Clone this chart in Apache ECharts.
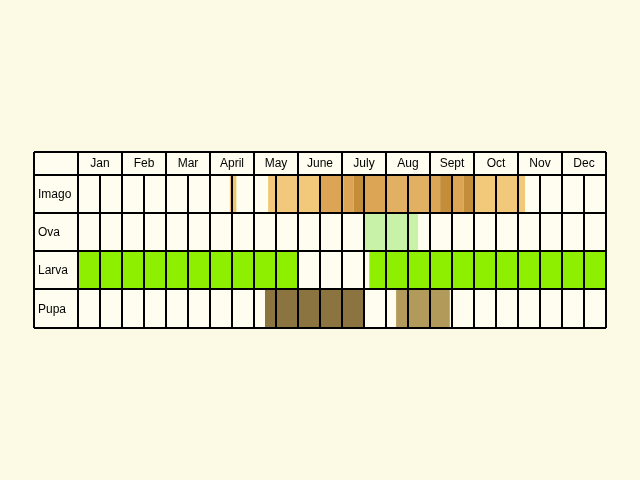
<!DOCTYPE html>
<html><head><meta charset="utf-8">
<script src="https://cdn.jsdelivr.net/npm/echarts@6/dist/echarts.min.js"></script>
<style>html,body{margin:0;padding:0;background:#fcf9e4}#c{width:640px;height:480px}</style>
</head><body><div id="c"></div>
<script>
const months = ['Jan','Feb','Mar','April','May','June','July','Aug','Sept','Oct','Nov','Dec'];
const stages = ['Imago','Ova','Larva','Pupa'];
const rowEdges = [0, 23, 61, 99, 137, 176];   // header + 4 stage rows (vertical units)
const colors = ['#f2c97a','#dba555','#c48d3a','#e2b062','#d4e9a0','#8ef000','#8c7440','#b29a5a','#c8f2a8','#f0c470'];
// segments: [startMonth, endMonth, stageIndex, colorIndex]
const imago = [[3.45,3.6,0,9],[4.32,5.5,0,0],[5.5,6.03,0,1],[6.03,6.26,0,1],[6.26,6.48,0,2],[6.48,6.75,0,1],[6.75,7.02,0,1],[7.02,8.0,0,3],[8.0,8.23,0,1],[8.23,8.49,0,2],[8.49,8.76,0,1],[8.76,9.02,0,2],[9.02,10.16,0,0]];
const ova = [[6.52,7.73,1,8]];
const larva = [[0,5.0,2,5],[6.62,12,2,5]];
const pupa = [[4.25,6.48,3,6],[7.23,8.45,3,7]];
const segments = imago.concat(ova, larva, pupa);
const halfTicks = []; for (let i = 0; i <= 24; i++) halfTicks.push(i / 2);

const chart = echarts.init(document.getElementById('c'));
const X0 = -1;
chart.setOption({
  backgroundColor: '#fcf9e4', animation: false,
  grid: {left: 34, right: 34, top: 152, height: 176},
  xAxis: {type: 'value', min: X0, max: 12, show: false},
  yAxis: {type: 'value', min: 0, max: 176, inverse: true, show: false},
  series: [
    {type: 'custom', data: [[0]], renderItem: (p, api) => {
      const a = api.coord([X0, 0]), b = api.coord([12, 176]);
      return {type: 'rect', shape: {x: a[0], y: a[1], width: b[0]-a[0], height: b[1]-a[1]}, style: {fill: '#fffdf0'}};
    }, z: 1},
    {type: 'custom', data: segments, renderItem: (p, api) => {
      const s = api.value(0), e = api.value(1), r = api.value(2), ci = api.value(3);
      const a = api.coord([s, rowEdges[r+1]]), b = api.coord([e, rowEdges[r+2]]);
      return {type: 'rect', shape: {x: a[0], y: a[1], width: b[0]-a[0], height: b[1]-a[1]}, style: {fill: colors[ci]}};
    }, z: 2},
    {type: 'custom', data: halfTicks.map(v => [v]), renderItem: (p, api) => {
      const v = api.value(0);
      const top = Number.isInteger(v) ? 0 : rowEdges[1];
      const a = api.coord([v, top]), b = api.coord([v, 176]);
      return {type: 'line', shape: {x1: a[0], y1: a[1], x2: b[0], y2: b[1]}, style: {stroke: '#000', lineWidth: 2}};
    }, z: 3},
    {type: 'custom', data: rowEdges.map(v => [v]), renderItem: (p, api) => {
      const a = api.coord([X0, api.value(0)]), b = api.coord([12, api.value(0)]);
      return {type: 'line', shape: {x1: a[0], y1: a[1], x2: b[0], y2: b[1]}, style: {stroke: '#000', lineWidth: 2}};
    }, z: 3},
    {type: 'custom', data: [[X0]], renderItem: (p, api) => {
      const a = api.coord([X0, 0]), b = api.coord([X0, 176]);
      return {type: 'line', shape: {x1: a[0], y1: a[1], x2: b[0], y2: b[1]}, style: {stroke: '#000', lineWidth: 2}};
    }, z: 3},
    {type: 'custom', data: months.map((m, i) => [i + 0.5, m]), renderItem: (p, api) => {
      const c = api.coord([api.value(0), (rowEdges[0]+rowEdges[1])/2]);
      return {type: 'text', x: c[0], y: c[1], style: {text: months[p.dataIndex], fill: '#000', font: '12px "Liberation Sans", Arial, sans-serif', align: 'center', verticalAlign: 'middle'}};
    }, z: 4},
    {type: 'custom', data: stages.map((s, i) => [i]), renderItem: (p, api) => {
      const i = api.value(0);
      const c = api.coord([X0, (rowEdges[i+1]+rowEdges[i+2])/2]);
      return {type: 'text', x: c[0]+4, y: c[1]+1, style: {text: stages[i], fill: '#000', font: '12px "Liberation Sans", Arial, sans-serif', align: 'left', verticalAlign: 'middle'}};
    }, z: 4}
  ]
});
</script></body></html>
